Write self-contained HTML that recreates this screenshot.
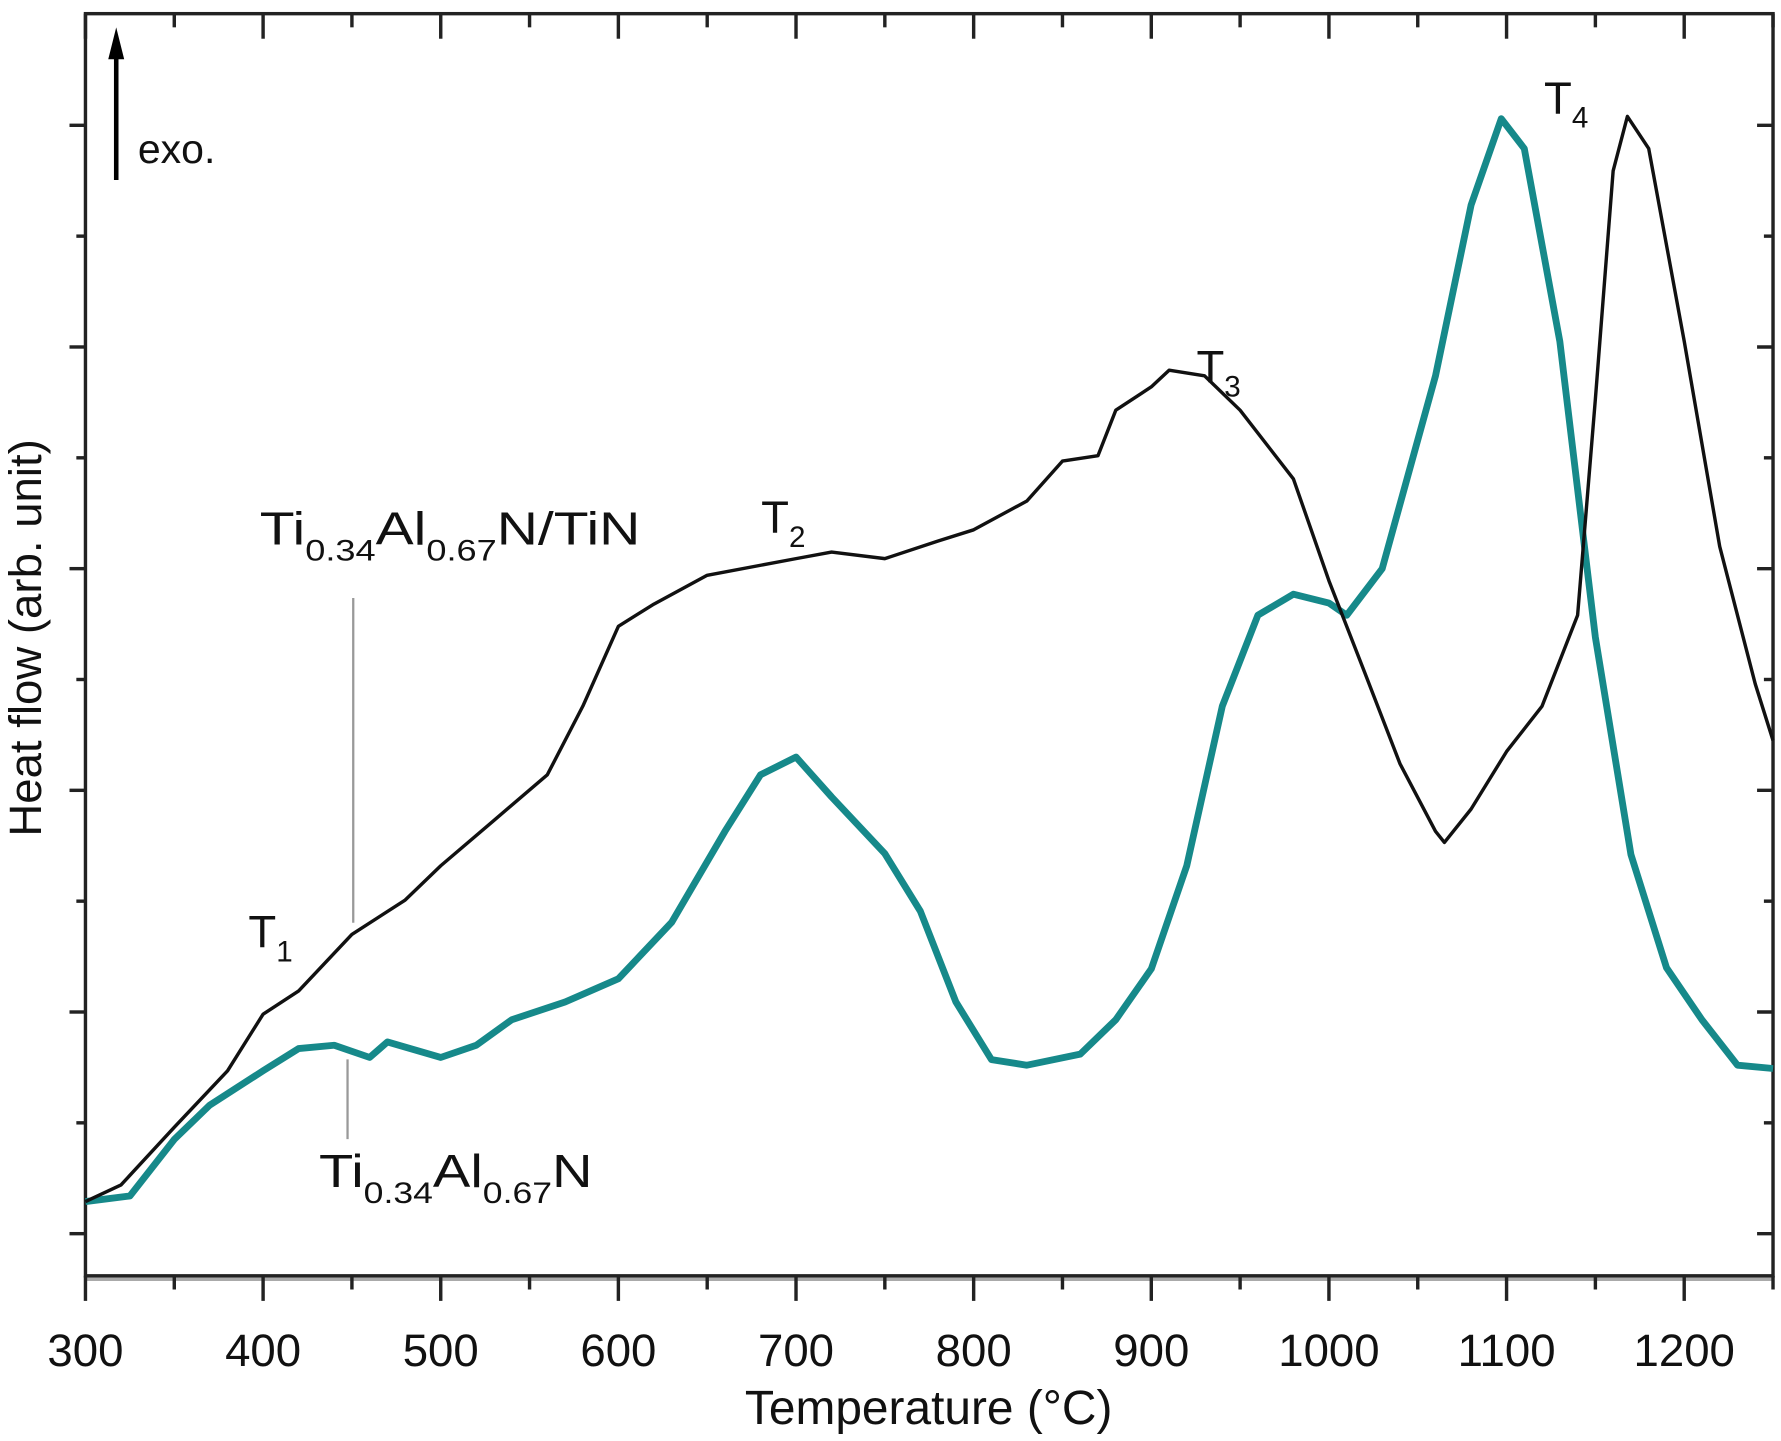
<!DOCTYPE html>
<html><head><meta charset="utf-8"><style>
html,body{margin:0;padding:0;background:#fff}
svg{display:block}
text{font-family:"Liberation Sans",sans-serif;fill:#111}
</style></head><body>
<svg id="chart" width="1781" height="1441" viewBox="0 0 1563 1265" preserveAspectRatio="none" xmlns="http://www.w3.org/2000/svg">
<g id="axes"></g>
<g id="series"></g>
<g>
<line x1="102" y1="158" x2="102" y2="45" stroke="#000" stroke-width="4"/>
<polygon points="95,52 109,52 102,24" fill="#000"/>
<text x="121" y="143" font-size="36">exo.</text>
<text x="218" y="832" font-size="40">T<tspan font-size="26" dy="12">1</tspan></text>
<text x="668" y="468" font-size="40">T<tspan font-size="26" dy="12">2</tspan></text>
<text x="1050" y="336" font-size="40">T<tspan font-size="26" dy="12">3</tspan></text>
<text x="1355" y="100" font-size="40">T<tspan font-size="26" dy="12">4</tspan></text>
<text x="228" y="478" font-size="41" textLength="334" lengthAdjust="spacingAndGlyphs">Ti<tspan font-size="26" dy="14">0.34</tspan><tspan dy="-14">Al</tspan><tspan font-size="26" dy="14">0.67</tspan><tspan dy="-14">N/TiN</tspan></text>
<line x1="310" y1="525" x2="310" y2="810" stroke="#999" stroke-width="2"/>
<line x1="305" y1="930" x2="305" y2="1000" stroke="#999" stroke-width="2"/>
<text x="280" y="1042" font-size="41" textLength="240" lengthAdjust="spacingAndGlyphs">Ti<tspan font-size="26" dy="14">0.34</tspan><tspan dy="-14">Al</tspan><tspan font-size="26" dy="14">0.67</tspan><tspan dy="-14">N</tspan></text>
<text x="815" y="1250" font-size="42" text-anchor="middle">Temperature (°C)</text>
<text transform="translate(36,560) rotate(-90)" font-size="40" text-anchor="middle">Heat flow (arb. unit)</text>
</g>
</svg>
<script>
const temps = [300,320,350,380,400,420,450,480,500,530,560,580,600,620,650,700,720,750,780,800,830,850,870,880,900,910,930,950,980,1000,1020,1040,1060,1065,1080,1100,1120,1140,1150,1160,1168,1180,1200,1220,1240,1250];
const multilayerFlow = [0.29,0.44,0.96,1.47,1.98,2.19,2.70,3.01,3.32,3.73,4.14,4.76,5.48,5.68,5.94,6.09,6.15,6.09,6.25,6.35,6.61,6.97,7.02,7.43,7.64,7.79,7.74,7.43,6.81,5.89,5.07,4.24,3.63,3.53,3.83,4.35,4.76,5.58,7.53,9.59,10.08,9.79,8.05,6.20,4.96,4.45];
const tempsMono = [300,325,350,370,400,420,440,460,470,500,520,540,570,600,630,660,680,700,720,750,770,790,810,830,860,880,900,920,940,960,980,1000,1010,1030,1060,1080,1097,1110,1130,1150,1170,1190,1210,1230,1250];
const monolithicFlow = [0.29,0.34,0.85,1.16,1.47,1.67,1.70,1.59,1.73,1.59,1.70,1.93,2.09,2.30,2.81,3.63,4.14,4.30,3.94,3.43,2.91,2.09,1.57,1.52,1.62,1.93,2.39,3.32,4.76,5.58,5.77,5.69,5.58,6.00,7.74,9.28,10.06,9.79,8.05,5.38,3.42,2.40,1.93,1.52,1.49];
const xTicks = [300,400,500,600,700,800,900,1000,1100,1200];

const NS="http://www.w3.org/2000/svg";
const L=75,R=1556,T=12,B=1120;
const x = t => L + (t-300)*(R-L)/950;
const y = v => 1083 - v*97.3;
function mk(tag,attrs,parent){const e=document.createElementNS(NS,tag);for(const k in attrs)e.setAttribute(k,attrs[k]);parent.appendChild(e);return e;}
const axes=document.getElementById('axes');
const frame=mk('rect',{x:L,y:T,width:R-L,height:B-T,fill:'none',stroke:'#222','stroke-width':3},axes);


const base=mk('line',{x1:L,y1:B+3,x2:R,y2:B+3,stroke:'#aaa','stroke-width':3},axes);


for(let t=300;t<=1250;t+=50){
  const major=t%100===0;
  const tk=mk('line',{x1:x(t),y1:B,x2:x(t),y2:B+(major?22:12),stroke:'#222','stroke-width':3},axes);
  
  
  const tt=mk('line',{x1:x(t),y1:T,x2:x(t),y2:T+(major?22:12),stroke:'#222','stroke-width':3},axes);
  
  
}
xTicks.forEach(t=>{
  const lb=mk('text',{x:x(t),y:1199,'font-size':40,'text-anchor':'middle'},axes);
  lb.textContent=t;
  
  
});
for(let k=0;k<=10;k++){
  const major=k%2===0;
  const yy=y(k);
  const tl=mk('line',{x1:major?L-14:L-8,y1:yy,x2:L,y2:yy,stroke:'#222','stroke-width':3},axes);
  
  
  const tr=mk('line',{x1:R,y1:yy,x2:R-(major?14:8),y2:yy,stroke:'#222','stroke-width':3},axes);
  
  
}
const ser=document.getElementById('series');
function path(ts,vs){return ts.map((t,i)=>(i?'L':'M')+x(t).toFixed(1)+','+y(vs[i]).toFixed(1)).join(' ');}
const mono=mk('path',{d:path(tempsMono,monolithicFlow),fill:'none',stroke:'#16898a','stroke-width':6,'stroke-linejoin':'round'},ser);


const multi=mk('path',{d:path(temps,multilayerFlow),fill:'none',stroke:'#111','stroke-width':3,'stroke-linejoin':'round'},ser);


</script>
</body></html>
